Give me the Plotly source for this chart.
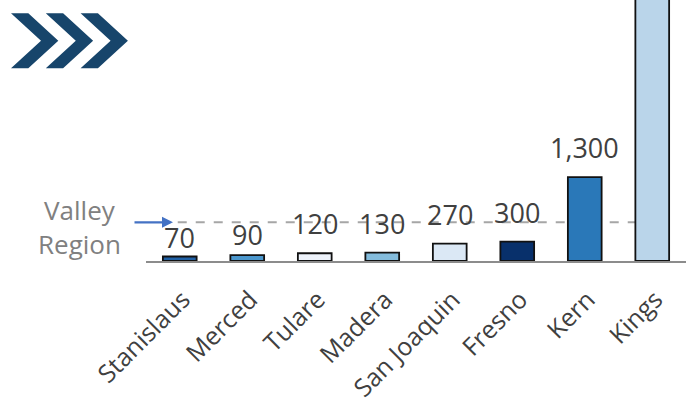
import plotly.graph_objects as go

# County values (Kings runs off the top of the chart, so its label is not shown)
counties = ["Stanislaus", "Merced", "Tulare", "Madera", "San Joaquin", "Fresno", "Kern", "Kings"]
values = [70, 90, 120, 130, 270, 300, 1300, 4400]
bar_colors = ["#2061a6", "#4b97cd", "#eef3fb", "#84bcdc", "#dbe8f5", "#08306b", "#2a78b8", "#bad5ea"]
valley_region = 600

labels = [f"{v:,}" for v in values[:-1]] + [""]

W, H = 690, 408
ML, MR, MT, MB = 146, 4, 0, 147
pw, ph = W - ML - MR, H - MT - MB


def px(x, y):
    # pixel position -> paper coordinates (used only for the logo / labels)
    return (x - ML) / pw, (H - MB - y) / ph


fig = go.Figure(
    go.Bar(
        x=counties,
        y=values,
        marker=dict(color=bar_colors, line=dict(color="#111111", width=1.8)),
        cliponaxis=False,
        width=0.5,
    )
)

# value labels sit a bit higher above most bars, as in the original
label_lift = {"Stanislaus": -2, "Merced": 0}
for c, v, t in zip(counties, values, labels):
    if not t:
        continue
    fig.add_annotation(x=c, y=v, xref="x", yref="y", text=t, showarrow=False,
                       yanchor="bottom", yshift=label_lift.get(c, 9),
                       font=dict(size=27, color="#404040", family="Open Sans"))

# Valley region dashed reference line
fig.add_shape(type="line", xref="x", yref="y", x0=-0.03, x1=6.95, y0=valley_region, y1=valley_region,
              line=dict(color="#a6a6a6", width=2, dash="dash"), layer="below")

# Arrow + label
fig.add_annotation(x=px(173, 0)[0], xref="paper", y=valley_region, yref="y", text="",
                   showarrow=True, ax=-40, ay=0, arrowhead=2, arrowsize=1, arrowwidth=2.2,
                   arrowcolor="#4472c4")
fig.add_annotation(x=px(79, 0)[0], xref="paper", y=px(0, 227)[1], yref="paper",
                   xanchor="center", yanchor="middle",
                   text="Valley<br>Region", showarrow=False,
                   font=dict(size=26, color="#808080", family="Open Sans"), align="center")

# Chevron logo
chev = [(0, 0), (17.3, 0), (47.3, 27.4), (17.3, 55), (0, 55), (30, 27.4)]
for i in range(3):
    ox, oy = 11 + i * 34.8, 13.3
    pts = [px(ox + a, oy + b) for a, b in chev]
    path = "M " + " L ".join(f"{a:.5f},{b:.5f}" for a, b in pts) + " Z"
    fig.add_shape(type="path", xref="paper", yref="paper", path=path,
                  fillcolor="#17456b", line=dict(width=0))

fig.update_layout(
    width=W, height=H,
    margin=dict(l=ML, r=MR, t=MT, b=MB),
    plot_bgcolor="white", paper_bgcolor="white",
    showlegend=False,
    font=dict(family="Open Sans", color="#404040"),
    xaxis=dict(showline=True, linecolor="#8c8c8c", linewidth=2, ticks="",
               tickangle=-45, tickfont=dict(size=25, color="#404040"),
               ticklabelshift=3, ticklabelstandoff=12,
               range=[-0.5, 7.5]),
    yaxis=dict(range=[0, 4050], visible=False, showgrid=False),
)

fig.write_html("out.html", config={"displayModeBar": False},
               post_script="document.body.style.margin='0';")
